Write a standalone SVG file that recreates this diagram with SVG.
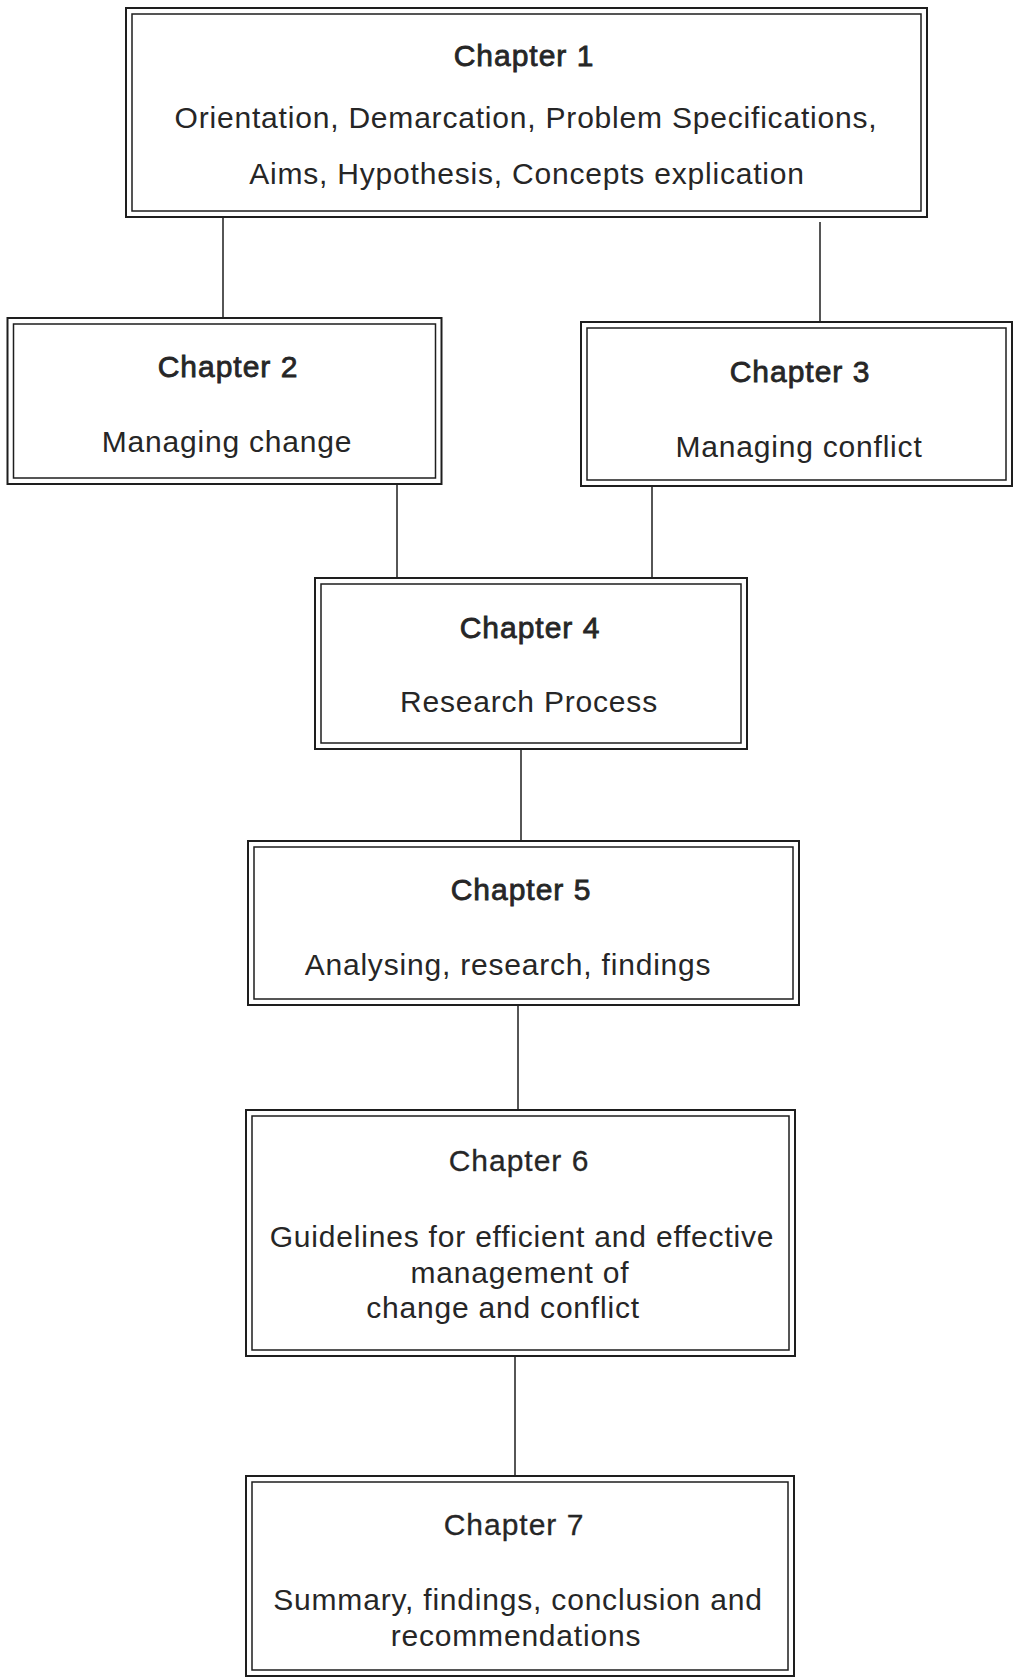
<svg xmlns="http://www.w3.org/2000/svg" width="1015" height="1678" viewBox="0 0 1015 1678">
<style>
  .outer { fill: none; stroke: #1e1e1e; stroke-width: 2; }
  .inner { fill: none; stroke: #1e1e1e; stroke-width: 1.5; }
  .conn { stroke: #1e1e1e; stroke-width: 1.5; fill: none; }
  text { font-family: "Liberation Sans", Arial, sans-serif; font-size: 30px; fill: #262626; text-anchor: middle; letter-spacing: 0.8px; }
  .title { stroke: #262626; stroke-width: 0.8; letter-spacing: 1px; }
  .title-light { stroke: #262626; stroke-width: 0.3; letter-spacing: 1px; }
</style>
<rect width="1015" height="1678" fill="#ffffff"/>
<g id="connectors">
  <line class="conn" x1="223" y1="217" x2="223" y2="318"/>
  <line class="conn" x1="820" y1="222" x2="820" y2="322"/>
  <line class="conn" x1="397" y1="484" x2="397" y2="578"/>
  <line class="conn" x1="652" y1="486" x2="652" y2="578"/>
  <line class="conn" x1="521" y1="749" x2="521" y2="841"/>
  <line class="conn" x1="518" y1="1005" x2="518" y2="1110"/>
  <line class="conn" x1="515" y1="1356" x2="515" y2="1476"/>
</g>
<g id="chapter1">
  <rect class="outer" x="126" y="8" width="801" height="209"/>
  <rect class="inner" x="132" y="14" width="789" height="197"/>
  <text class="title" x="524" y="66">Chapter 1</text>
  <text x="526" y="128">Orientation, Demarcation, Problem Specifications,</text>
  <text x="527" y="184">Aims, Hypothesis, Concepts explication</text>
</g>
<g id="chapter2">
  <rect class="outer" x="7.5" y="318" width="434" height="166"/>
  <rect class="inner" x="13.5" y="324" width="422" height="154"/>
  <text class="title" x="228" y="377">Chapter 2</text>
  <text x="227" y="452">Managing change</text>
</g>
<g id="chapter3">
  <rect class="outer" x="581" y="322" width="431" height="164"/>
  <rect class="inner" x="587" y="328" width="419" height="152"/>
  <text class="title" x="800" y="382">Chapter 3</text>
  <text x="799" y="457">Managing conflict</text>
</g>
<g id="chapter4">
  <rect class="outer" x="315" y="578" width="432" height="171"/>
  <rect class="inner" x="321" y="584" width="420" height="159"/>
  <text class="title" x="530" y="638">Chapter 4</text>
  <text x="529" y="712">Research Process</text>
</g>
<g id="chapter5">
  <rect class="outer" x="248" y="841" width="551" height="164"/>
  <rect class="inner" x="254" y="847" width="539" height="152"/>
  <text class="title" x="521" y="900">Chapter 5</text>
  <text x="508" y="975">Analysing, research, findings</text>
</g>
<g id="chapter6">
  <rect class="outer" x="246" y="1110" width="549" height="246"/>
  <rect class="inner" x="252" y="1116" width="537" height="234"/>
  <text class="title-light" x="519" y="1171">Chapter 6</text>
  <text x="522" y="1247">Guidelines for efficient and effective</text>
  <text x="520" y="1283">management of</text>
  <text x="503" y="1318">change and conflict</text>
</g>
<g id="chapter7">
  <rect class="outer" x="246" y="1476" width="548" height="200"/>
  <rect class="inner" x="252" y="1482" width="536" height="188"/>
  <text class="title-light" x="514" y="1535">Chapter 7</text>
  <text x="518" y="1610">Summary, findings, conclusion and</text>
  <text x="516" y="1646">recommendations</text>
</g>
</svg>
